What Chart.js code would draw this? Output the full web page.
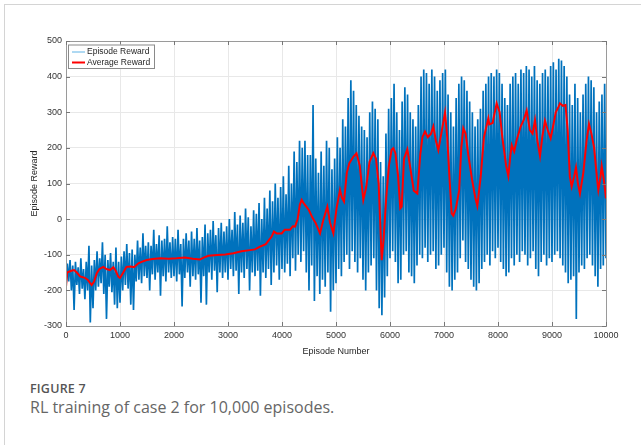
<!DOCTYPE html>
<html>
<head>
<meta charset="utf-8">
<script src="https://cdn.jsdelivr.net/npm/chart.js@4.4.1/dist/chart.umd.min.js"></script>
<style>
  body { margin: 0; background: #fff; width: 641px; height: 445px; overflow: hidden; position: relative; }
  #frame { position: absolute; left: 4px; top: 4px; width: 650px; height: 460px; border-top: 1px solid #d4d4d4; border-left: 1px solid #d4d4d4; }
  #chart-box { position: absolute; left: 0; top: 0; width: 641px; height: 370px; }
  .fig-label { position: absolute; left: 30px; top: 380px; font-family: "Open Sans", sans-serif; font-size: 12.5px; font-weight: 600; color: #555; letter-spacing: 0.2px; }
  .fig-caption { position: absolute; left: 30px; top: 396px; font-family: "Open Sans", sans-serif; font-size: 16px; color: #666; }
</style>
</head>
<body>
<div id="frame"></div>
<div id="chart-box"><canvas id="rewardChart"></canvas></div>
<div class="fig-label">FIGURE 7</div>
<div class="fig-caption">RL training of case 2 for 10,000 episodes.</div>

<script>
// --- Chart data ---
const EP_STEP = 25; // episode spacing of the sampled reward trace

// Episode reward, one value every 25 episodes (0 .. 10000)
const episodeReward = [
    -190, -125, -175, -115, -200, -130, -255, -120, -185, -135, -210, -110, -195, -140, -225, -120, -200, -75, -290, -130,
    -250, -115, -200, -90, -190, -110, -180, -65, -210, -100, -280, -115, -190, -95, -205, -120, -240, -80, -250, -120,
    -235, -105, -200, -90, -185, -70, -195, -95, -240, -85, -255, -100, -175, -60, -170, -80, -180, -40, -160, -75,
    -165, -65, -200, -75, -155, -30, -170, -70, -150, -45, -215, -60, -160, -55, -175, -20, -150, -65, -165, -50,
    -160, -55, -175, -30, -155, -70, -245, -55, -165, -40, -150, -60, -190, -35, -160, -55, -170, -25, -155, -60,
    -235, -50, -160, -15, -240, -40, -150, -30, -170, -5, -145, -45, -205, -25, -150, -10, -165, -35, -150, -20,
    -170, 0, -140, -30, -160, 20, -145, -15, -210, 10, -150, -10, -165, 30, -140, 5, -200, -20, -150, 25,
    -160, 15, -145, 45, -215, 0, -150, 60, -165, 30, -140, 80, -185, 50, -150, 100, -130, 60, -170, 90,
    -140, 120, -150, 70, -125, 150, -160, 100, -110, 190, -145, 160, -100, 220, -120, 200, -90, 220, -150, 180,
    -200, 180, -130, 320, -230, 170, -160, 130, -210, 190, -170, 150, -190, 220, -150, 200, -260, 140, -200, 170,
    -180, 230, -140, 200, -160, 280, -120, 260, -100, 340, -140, 390, -90, 360, -120, 320, -150, 290, -110, 260,
    -170, 250, -200, 230, -150, 300, -130, 330, -110, 310, -200, 280, -250, 160, -270, 120, -220, 240, -160, 310,
    -110, 340, -90, 380, -120, 300, -180, 250, -170, 330, -100, 370, -90, 350, -150, 300, -160, 280, -180, 260,
    -130, 320, -100, 400, -110, 420, -80, 410, -120, 380, -100, 420, -90, 400, -140, 360, -130, 390, -100, 410,
    -80, 420, -150, 350, -190, 300, -200, 260, -170, 340, -150, 380, -110, 400, -60, 390, -120, 360, -140, 330,
    -170, 300, -190, 260, -200, 280, -180, 310, -140, 360, -120, 380, -100, 400, -130, 410, -90, 400, -110, 420,
    -80, 410, -120, 380, -140, 340, -160, 320, -150, 380, -110, 400, -130, 410, -100, 380, -120, 420, -90, 410,
    -100, 430, -130, 420, -110, 400, -90, 430, -140, 390, -160, 380, -120, 410, -100, 420, -130, 400, -110, 430,
    -120, 440, -100, 420, -90, 450, -110, 445, -130, 430, -150, 400, -180, 350, -170, 320, -160, 380, -280, 340,
    -150, 300, -130, 350, -140, 380, -110, 400, -100, 390, -130, 370, -160, 300, -190, 330, -140, 350, -130, 380,
    -110
];

// Running average reward
const avgEpisodes = [
    0, 20, 100, 150, 200, 260, 350, 400, 475, 520, 570, 620, 690, 750, 815, 877, 920, 970, 1000, 1060,
    1120, 1200, 1260, 1340, 1400, 1494, 1600, 1741, 1900, 2049, 2200, 2350, 2481, 2550, 2636, 2800, 2950, 3099, 3250, 3407,
    3500, 3593, 3700, 3760, 3809, 3850, 3901, 3994, 4050, 4148, 4200, 4241, 4290, 4330, 4364, 4400, 4450, 4500, 4560, 4620,
    4704, 4760, 4839, 4890, 4951, 5010, 5074, 5110, 5148, 5200, 5247, 5321, 5380, 5440, 5506, 5560, 5620, 5691, 5740, 5790,
    5846, 5880, 5930, 5980, 6030, 6061, 6100, 6150, 6190, 6216, 6260, 6321, 6380, 6440, 6506, 6560, 6600, 6648, 6700, 6760,
    6802, 6850, 6895, 6950, 7019, 7060, 7100, 7142, 7172, 7220, 7280, 7320, 7358, 7400, 7450, 7520, 7580, 7617, 7680, 7740,
    7821, 7840, 7900, 7975, 8030, 8080, 8150, 8191, 8230, 8254, 8300, 8346, 8420, 8480, 8531, 8590, 8640, 8685, 8730, 8778,
    8820, 8870, 8920, 8975, 9020, 9070, 9120, 9148, 9200, 9250, 9290, 9330, 9364, 9410, 9444, 9480, 9518, 9580, 9640, 9685,
    9730, 9780, 9830, 9858, 9900, 9920, 9960, 10000
];
const avgValues = [
    -190, -150, -145, -143, -150, -161, -165, -170, -185, -175, -152, -140, -134, -140, -143, -135, -145, -162, -165, -150,
    -134, -133, -135, -124, -120, -115, -112, -110, -111, -110, -108, -111, -113, -108, -103, -101, -99, -96, -90, -87,
    -85, -77, -70, -58, -49, -35, -40, -40, -30, -30, -20, -21, 0, 40, 54, 45, 35, 25, 5, -10,
    -40, -5, 35, -10, -40, 30, 82, 60, 49, 130, 157, 175, 185, 150, 54, 90, 160, 185, 170, 100,
    -115, -60, 60, 150, 195, 199, 185, 120, 30, 35, 170, 196, 140, 80, 72, 180, 230, 246, 230, 240,
    260, 220, 194, 240, 299, 230, 120, 16, 10, 30, 80, 200, 255, 240, 180, 110, 60, 37, 120, 230,
    283, 266, 270, 325, 300, 230, 150, 121, 180, 208, 190, 222, 260, 280, 305, 250, 240, 278, 220, 177,
    230, 276, 250, 227, 260, 300, 315, 325, 318, 320, 250, 120, 91, 120, 145, 100, 72, 130, 220, 267,
    240, 200, 120, 82, 120, 149, 110, 58
];

const xTicks = [0, 1000, 2000, 3000, 4000, 5000, 6000, 7000, 8000, 9000, 10000];
const yTicks = [-300, -200, -100, 0, 100, 200, 300, 400, 500];
const seriesNames = ['Episode Reward', 'Average Reward'];

const BLUE = '#0072BD';
const RED = '#ff0000';
const AXIS_FONT = { family: 'Liberation Sans, Arial, sans-serif', size: 9 };

// --- MATLAB style box, inner ticks and legend ---
const matlabFrame = {
    id: 'matlabFrame',
    afterDatasetsDraw(chart) {
        const { ctx, chartArea: a, scales: { x, y } } = chart;
        ctx.save();
        ctx.strokeStyle = '#9a9a9a';
        ctx.lineWidth = 1;
        ctx.strokeRect(Math.round(a.left) + 0.5, Math.round(a.top) + 0.5,
            Math.round(a.right - a.left), Math.round(a.bottom - a.top));

        ctx.strokeStyle = '#777';
        ctx.beginPath();
        xTicks.forEach(v => {
            const px = Math.round(x.getPixelForValue(v)) + 0.5;
            ctx.moveTo(px, a.top); ctx.lineTo(px, a.top + 4);
            ctx.moveTo(px, a.bottom); ctx.lineTo(px, a.bottom - 4);
        });
        yTicks.forEach(v => {
            const py = Math.round(y.getPixelForValue(v)) + 0.5;
            ctx.moveTo(a.left, py); ctx.lineTo(a.left + 4, py);
            ctx.moveTo(a.right, py); ctx.lineTo(a.right - 4, py);
        });
        ctx.stroke();

        // legend box
        const lx = a.left + 2, ly = a.top + 3.5, lw = 86, lh = 23.5;
        ctx.fillStyle = '#fff';
        ctx.fillRect(lx, ly, lw, lh);
        ctx.strokeStyle = '#8a8a8a';
        ctx.strokeRect(lx + 0.5, ly + 0.5, lw, lh);
        ctx.font = '8.5px "Liberation Sans", Arial, sans-serif';
        ctx.textBaseline = 'middle';
        ctx.fillStyle = '#262626';
        const rows = [
            { name: seriesNames[0], color: '#5fb3e6', width: 1 },
            { name: seriesNames[1], color: RED, width: 2 }
        ];
        rows.forEach((r, i) => {
            const ry = ly + 7.5 + i * 10.5;
            ctx.strokeStyle = r.color;
            ctx.lineWidth = r.width;
            ctx.beginPath();
            ctx.moveTo(lx + 4, ry); ctx.lineTo(lx + 17, ry);
            ctx.stroke();
            ctx.fillText(r.name, lx + 19, ry);
        });
        ctx.restore();
    }
};

const ctx = document.getElementById('rewardChart');
new Chart(ctx, {
    type: 'line',
    data: {
        datasets: [
            {
                label: seriesNames[0],
                data: episodeReward.map((v, i) => ({ x: i * EP_STEP, y: v })),
                borderColor: BLUE,
                borderWidth: 1.7,
                pointRadius: 0,
                tension: 0,
                order: 2
            },
            {
                label: seriesNames[1],
                data: avgEpisodes.map((e, i) => ({ x: e, y: avgValues[i] })),
                borderColor: RED,
                borderWidth: 2,
                pointRadius: 0,
                tension: 0,
                order: 1
            }
        ]
    },
    options: {
        responsive: true,
        maintainAspectRatio: false,
        animation: false,
        events: [],
        layout: { padding: { top: 41, right: 35, left: 0, bottom: 0 } },
        plugins: {
            legend: { display: false },
            tooltip: { enabled: false }
        },
        scales: {
            x: {
                type: 'linear',
                min: 0,
                max: 10000,
                afterBuildTicks: s => { s.ticks = xTicks.map(v => ({ value: v })); },
                afterFit: s => { s.height = 44; },
                grid: { color: '#e8e8e8', drawTicks: false },
                border: { display: false },
                ticks: { color: '#333', font: AXIS_FONT, padding: 4, maxRotation: 0, callback: v => String(v) },
                title: { display: true, text: 'Episode Number', color: '#262626', font: AXIS_FONT, padding: { top: 0, bottom: 13 } }
            },
            y: {
                min: -300,
                max: 500,
                afterBuildTicks: s => { s.ticks = yTicks.map(v => ({ value: v })); },
                afterFit: s => { s.width = 66; },
                grid: { color: '#e8e8e8', drawTicks: false },
                border: { display: false },
                ticks: { color: '#333', font: AXIS_FONT, padding: 4, callback: v => String(v) },
                title: { display: true, text: 'Episode Reward', color: '#262626', font: AXIS_FONT, padding: { top: 29, bottom: 0 } }
            }
        }
    },
    plugins: [matlabFrame]
});
</script>
</body>
</html>
